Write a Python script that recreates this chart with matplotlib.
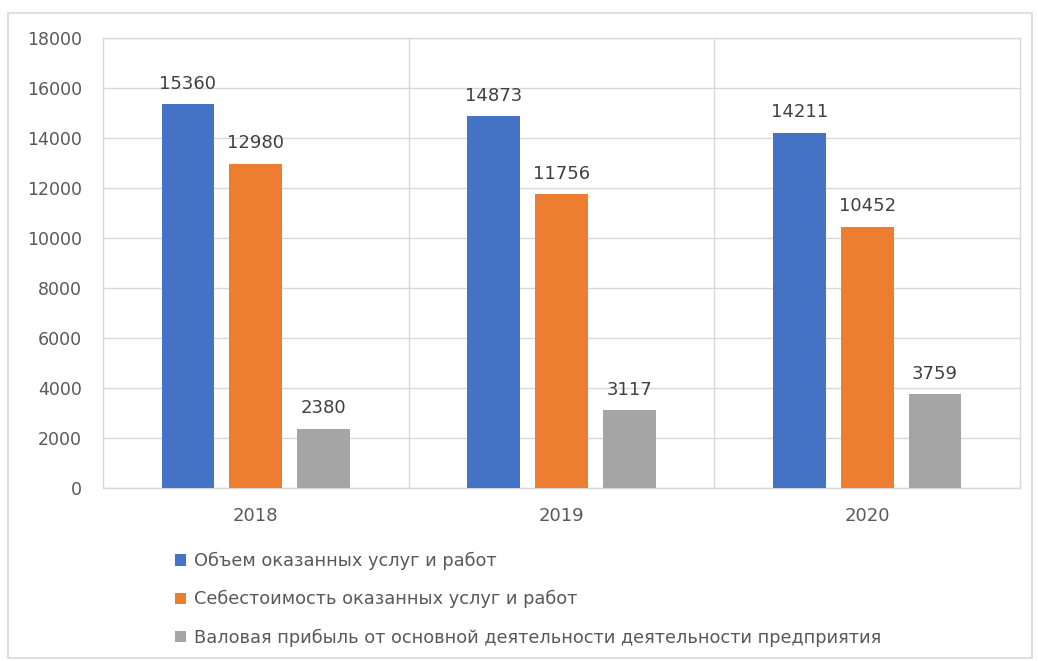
import matplotlib
matplotlib.use("Agg")
import matplotlib.pyplot as plt
from matplotlib.patches import Rectangle, Patch
import numpy as np

years = ["2018", "2019", "2020"]
series_names = [
    "Объем оказанных услуг и работ",
    "Себестоимость оказанных услуг и работ",
    "Валовая прибыль от основной деятельности деятельности предприятия",
]
volume = [15360, 14873, 14211]
cost = [12980, 11756, 10452]
profit = [2380, 3117, 3759]
colors = ["#4472C4", "#ED7D31", "#A5A5A5"]

plt.rcParams["font.family"] = ["DejaVu Sans"]

W, H = 1038, 661
fig = plt.figure(figsize=(W / 100, H / 100), dpi=100)
fig.patch.set_facecolor("white")

# outer chart frame
fig.add_artist(Rectangle((8 / W, 1 - 658 / H), (1032 - 8) / W, (658 - 13) / H,
                         transform=fig.transFigure, fill=False,
                         edgecolor="#d9d9d9", linewidth=1.2))

ax = fig.add_axes([103 / W, 1 - 488 / H, (1020 - 103) / W, (488 - 38) / H])
x = np.arange(len(years))
width = 0.173
step = 0.222
values = [volume, cost, profit]
for i, (vals, col) in enumerate(zip(values, colors)):
    bars = ax.bar(x + (i - 1) * step, vals, width, color=col, zorder=3)
    for b, v in zip(bars, vals):
        ax.annotate(f"{v}", (b.get_x() + b.get_width() / 2, v),
                    xytext=(0, 11), textcoords="offset points",
                    ha="center", va="baseline", fontsize=13, color="#404040")

ax.set_xlim(-0.5, 2.5)
ax.set_ylim(0, 18000)
ax.set_yticks(range(0, 18001, 2000))
ax.set_xticks(x)
ax.set_xticklabels(years)
ax.tick_params(axis="y", length=0, labelsize=12.5, labelcolor="#595959", pad=15)
ax.tick_params(axis="x", length=0, labelsize=13, labelcolor="#595959", pad=14)
ax.grid(axis="y", color="#d9d9d9", linewidth=1, zorder=0)
for b in [0.5, 1.5]:
    ax.axvline(b, color="#d9d9d9", linewidth=1, zorder=0)
for s in ax.spines.values():
    s.set_color("#d9d9d9")
    s.set_linewidth(1)

handles = [Patch(facecolor=c, edgecolor="none") for c in colors]
fig.legend(handles, series_names, loc="upper left",
           bbox_to_anchor=(175 / W, 1 - 552 / H), frameon=False,
           fontsize=12.8, labelcolor="#595959", handlelength=0.6,
           handleheight=0.6, handletextpad=0.45, labelspacing=1.12,
           borderaxespad=0, borderpad=0)

fig.savefig("out.png", dpi=100)
